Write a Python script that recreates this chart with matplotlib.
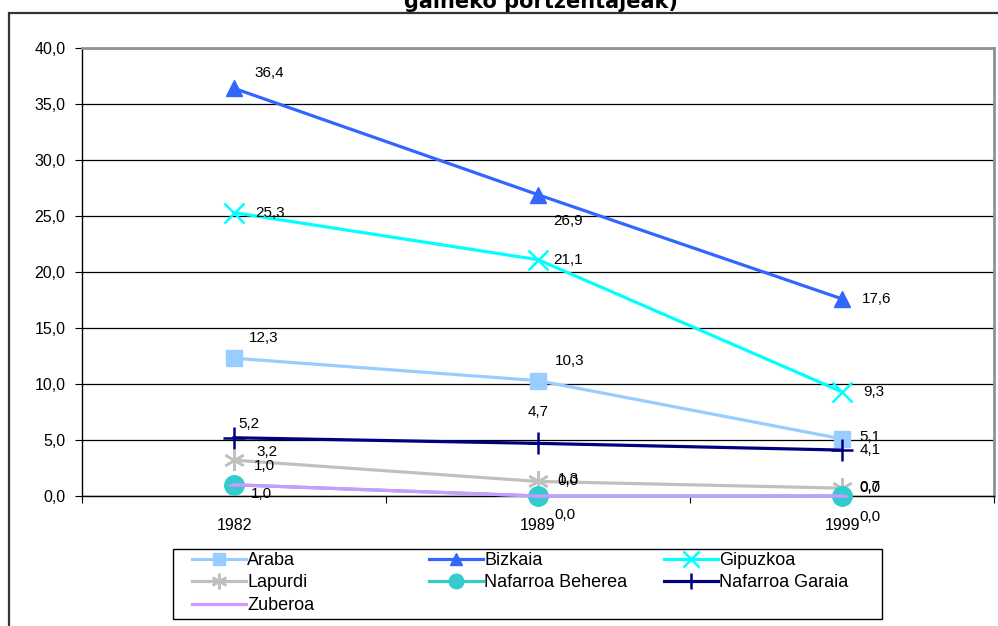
import matplotlib.pyplot as plt
from matplotlib.patches import Rectangle
from matplotlib.ticker import FuncFormatter

years = ['1982', '1989', '1999']
araba = [12.3, 10.3, 5.1]
bizkaia = [36.4, 26.9, 17.6]
gipuzkoa = [25.3, 21.1, 9.3]
lapurdi = [3.2, 1.3, 0.7]
nafarroa_beherea = [1.0, 0.0, 0.0]
nafarroa_garaia = [5.2, 4.7, 4.1]
zuberoa = [1.0, 0.0, 0.0]

plt.rcParams['font.family'] = ['Liberation Sans', 'DejaVu Sans']

W, H = 998, 626
fig = plt.figure(figsize=(W / 100, H / 100), dpi=100)
ax = fig.add_axes([82 / W, 1 - 496 / H, 912 / W, 448 / H])

x = [0.5, 1.5, 2.5]

# name, values, color, marker, markersize, label offsets (px) per point
series = [
    ('Araba', araba, '#99CCFF', 's', 11.5, [(30, 20), (32, 20), (28, 2)]),
    ('Bizkaia', bizkaia, '#3366FF', '^', 11, [(35, 15), (30, -26), (35, 0)]),
    ('Gipuzkoa', gipuzkoa, '#00FFFF', 'x', 15, [(36, 0), (30, 0), (32, 0)]),
    ('Lapurdi', lapurdi, '#C0C0C0', (6, 2, 0), 15, [(33, 8), (30, 2), (28, 1)]),
    ('Nafarroa Beherea', nafarroa_beherea, '#33CCCC', 'o', 14, [(27, -9), (27, -19), (28, -21)]),
    ('Nafarroa Garaia', nafarroa_garaia, '#000080', '+', 16, [(15, 14), (0, 31), (28, 0)]),
    ('Zuberoa', zuberoa, '#CC99FF', '_', 8, [(30, 19), (30, 15), (28, 8)]),
]

handles = {}
for name, vals, color, marker, ms, offs in series:
    thin = marker in ('x', '+', '_') or isinstance(marker, tuple)
    ln, = ax.plot(x, vals, color=color, lw=2.3, marker=marker, ms=ms,
                  mew=1.8 if thin else 1, mec=color, mfc=color, label=name,
                  clip_on=False, zorder=3)
    handles[name] = ln
    for xi, v, (dx, dy) in zip(x, vals, offs):
        ax.annotate(f'{v:.1f}'.replace('.', ','), (xi, v), xytext=(dx * 0.72, dy * 0.72),
                    textcoords='offset points', ha='center', va='center',
                    fontsize=11, zorder=5, annotation_clip=False)

ax.set_xlim(0, 3)
ax.set_ylim(0, 40)
ax.set_yticks(range(0, 41, 5))
ax.yaxis.set_major_formatter(FuncFormatter(lambda v, p: f'{v:.1f}'.replace('.', ',')))
ax.grid(axis='y', color='black', lw=0.9)
ax.set_axisbelow(True)

ax.set_xticks([0, 1, 2, 3])
ax.set_xticklabels([])
ax.set_xticks(x, minor=True)
ax.set_xticklabels(years, minor=True)
ax.tick_params(axis='x', which='minor', length=0, pad=16, labelsize=11.5)
ax.tick_params(axis='x', which='major', length=5, direction='out', color='black')
ax.tick_params(axis='y', length=5, direction='out', labelsize=11.5, pad=7)

for s in ('top', 'right'):
    ax.spines[s].set_color('#909090')
    ax.spines[s].set_linewidth(2)
for s in ('left', 'bottom'):
    ax.spines[s].set_color('black')
    ax.spines[s].set_linewidth(1)

# legend: three columns on an even grid, like the spreadsheet legend
columns = [['Araba', 'Lapurdi', 'Zuberoa'],
           ['Bizkaia', 'Nafarroa Beherea'],
           ['Gipuzkoa', 'Nafarroa Garaia']]
col_x = [192, 429, 664]
for names, cx in zip(columns, col_x):
    fig.legend([handles[n] for n in names], names, loc='upper left',
               bbox_to_anchor=(cx / W, 1 - 552 / H), frameon=False,
               borderpad=0, borderaxespad=0, fontsize=13, handlelength=3.0,
               handletextpad=0.05, labelspacing=0.3, markerscale=0.75)
fig.add_artist(Rectangle((173 / W, 1 - 619 / H), 709 / W, 70 / H,
                         transform=fig.transFigure, fill=False,
                         edgecolor='black', lw=1, clip_on=False))

# outer chart frame
fig.add_artist(Rectangle((9 / W, -0.1), 1.1, 1 - 13 / H + 0.1,
                         transform=fig.transFigure, fill=False,
                         edgecolor='#333333', lw=1.6, clip_on=False))

fig.text(541 / W, 1 - 8 / H, 'gaineko portzentajeak)', ha='center',
         va='baseline', fontsize=15, fontweight='bold', family='DejaVu Sans')

fig.savefig('out.png', dpi=100)
